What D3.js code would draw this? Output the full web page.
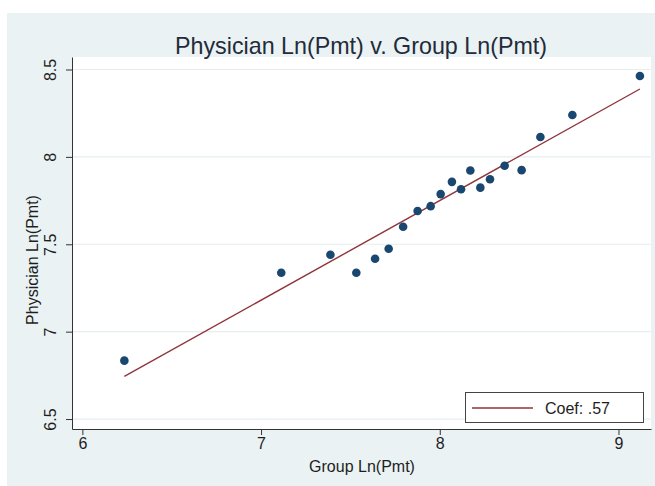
<!DOCTYPE html>
<html>
<head>
<meta charset="utf-8">
<script src="https://cdn.jsdelivr.net/npm/d3@7"></script>
<style>
  html, body { margin: 0; padding: 0; background: #ffffff; }
  svg { display: block; font-family: "Liberation Sans", Arial, sans-serif; }
</style>
</head>
<body>
<svg id="chart" width="655" height="486"></svg>
<script>
// Log payments: group practice (x) vs. individual physician (y)
const groupLn = [6.235, 7.113, 7.388, 7.533, 7.638, 7.714, 7.795, 7.876, 7.949, 8.005,
                 8.068, 8.119, 8.171, 8.227, 8.281, 8.363, 8.458, 8.563, 8.742, 9.12];
const physicianLn = [6.834, 7.337, 7.44, 7.337, 7.417, 7.474, 7.6, 7.69, 7.718, 7.787,
                     7.857, 7.815, 7.922, 7.824, 7.872, 7.949, 7.924, 8.114, 8.24, 8.463];

// Fitted line y = intercept + coef * x
const fitCoef = 0.57;
const fitIntercept = 3.19;

const xTicks = [6, 7, 8, 9];
const yTicks = [6.5, 7, 7.5, 8, 8.5];

const titleText = "Physician Ln(Pmt) v. Group Ln(Pmt)";
const xTitle = "Group Ln(Pmt)";
const yTitle = "Physician Ln(Pmt)";
const legendText = "Coef: .57";

const svg = d3.select("#chart");

// plot region bounds
const plot = { left: 72, right: 651, top: 57, bottom: 429 };

const x = d3.scaleLinear().domain([5.942, 9.182]).range([plot.left, plot.right]);
const y = d3.scaleLinear().domain([6.443, 8.5715]).range([plot.bottom, plot.top]);

// outer graph region
svg.append("rect")
  .attr("x", 7).attr("y", 13).attr("width", 648).attr("height", 473)
  .attr("fill", "#eaf2f3");

// inner plot region
svg.append("rect")
  .attr("x", plot.left).attr("y", plot.top)
  .attr("width", plot.right - plot.left).attr("height", plot.bottom - plot.top)
  .attr("fill", "#ffffff");

// horizontal grid lines
svg.append("g").selectAll("line")
  .data(yTicks)
  .join("line")
  .attr("x1", plot.left).attr("x2", plot.right)
  .attr("y1", d => y(d)).attr("y2", d => y(d))
  .attr("stroke", "#e6eef0").attr("stroke-width", 1.2);

// x axis
const xAxis = svg.append("g")
  .attr("transform", `translate(0,${plot.bottom})`)
  .call(d3.axisBottom(x).tickValues(xTicks).tickFormat(d3.format("d")).tickSize(6).tickSizeOuter(0).tickPadding(3));
xAxis.select(".domain").attr("stroke", "#333");
xAxis.selectAll(".tick line").attr("stroke", "#333");
xAxis.selectAll(".tick text")
  .attr("font-size", 16).attr("fill", "#1e1e1e")
  .attr("font-family", "Liberation Sans, Arial, sans-serif");

// y axis
const yAxis = svg.append("g")
  .attr("transform", `translate(${plot.left},0)`)
  .call(d3.axisLeft(y).tickValues(yTicks).tickFormat(d => String(d)).tickSize(6).tickSizeOuter(0));
yAxis.select(".domain").attr("stroke", "#333");
yAxis.selectAll(".tick line").attr("stroke", "#333");
yAxis.selectAll(".tick text")
  .attr("font-size", 16).attr("fill", "#1e1e1e")
  .attr("font-family", "Liberation Sans, Arial, sans-serif")
  .attr("text-anchor", "middle")
  .attr("x", 0).attr("dy", 0)
  .attr("transform", "translate(-16,0) rotate(-90)");

// fitted line across the observed x range
const xExtent = d3.extent(groupLn);
const fitLine = d3.line().x(d => x(d)).y(d => y(fitIntercept + fitCoef * d));
svg.append("path")
  .datum(xExtent)
  .attr("d", fitLine)
  .attr("fill", "none")
  .attr("stroke", "#90353b")
  .attr("stroke-width", 1.4);

// scatter points
svg.append("g").selectAll("circle")
  .data(groupLn.map((g, i) => [g, physicianLn[i]]))
  .join("circle")
  .attr("cx", d => x(d[0]))
  .attr("cy", d => y(d[1]))
  .attr("r", 4.3)
  .attr("fill", "#1a476f");

// title
svg.append("text")
  .attr("x", 361).attr("y", 54)
  .attr("text-anchor", "middle")
  .attr("font-size", 24)
  .attr("textLength", 372)
  .attr("lengthAdjust", "spacingAndGlyphs")
  .attr("fill", "#232b3a")
  .text(titleText);

// axis titles
svg.append("text")
  .attr("x", 362).attr("y", 472)
  .attr("text-anchor", "middle")
  .attr("font-size", 16)
  .attr("fill", "#1e1e1e")
  .text(xTitle);

svg.append("text")
  .attr("transform", "translate(38,260) rotate(-90)")
  .attr("text-anchor", "middle")
  .attr("font-size", 16)
  .attr("fill", "#1e1e1e")
  .text(yTitle);

// legend
const legend = svg.append("g");
legend.append("rect")
  .attr("x", 465.5).attr("y", 392.5).attr("width", 178).attr("height", 30)
  .attr("fill", "#ffffff").attr("stroke", "#444").attr("stroke-width", 1);
legend.append("line")
  .attr("x1", 472).attr("x2", 533).attr("y1", 408).attr("y2", 408)
  .attr("stroke", "#90353b").attr("stroke-width", 1.4);
legend.append("text")
  .attr("x", 545).attr("y", 413.5)
  .attr("font-size", 16)
  .attr("fill", "#1e1e1e")
  .text(legendText);
</script>
</body>
</html>
